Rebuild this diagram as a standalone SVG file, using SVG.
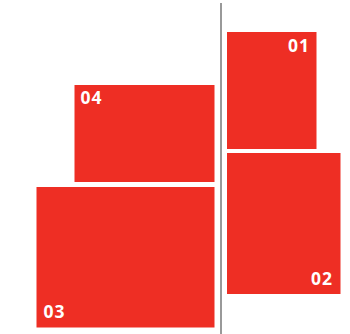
<svg xmlns="http://www.w3.org/2000/svg" width="350" height="334" viewBox="0 0 350 334">
<style>
.box{fill:#EE2E24}
.lbl{fill:#fff;font-family:"Open Sans","Liberation Sans",sans-serif;font-weight:bold;font-size:17.5px;letter-spacing:1px}
.divider{stroke:#999;stroke-width:2}
</style>
<rect width="350" height="334" fill="#fff"/>
<g id="connectors">
<line class="divider" x1="221" y1="3" x2="221" y2="334"/>
</g>
<g id="n01">
<rect class="box" x="227" y="32" width="89.5" height="117"/>
<text class="lbl" x="310" y="51.5" text-anchor="end">01</text>
</g>
<g id="n02">
<rect class="box" x="227" y="153" width="113.5" height="141"/>
<text class="lbl" x="333" y="284.5" text-anchor="end">02</text>
</g>
<g id="n04">
<rect class="box" x="74.5" y="85" width="140" height="97"/>
<text class="lbl" x="80.5" y="103.5">04</text>
</g>
<g id="n03">
<rect class="box" x="36.5" y="187" width="178" height="140.5"/>
<text class="lbl" x="43.5" y="318">03</text>
</g>
</svg>
